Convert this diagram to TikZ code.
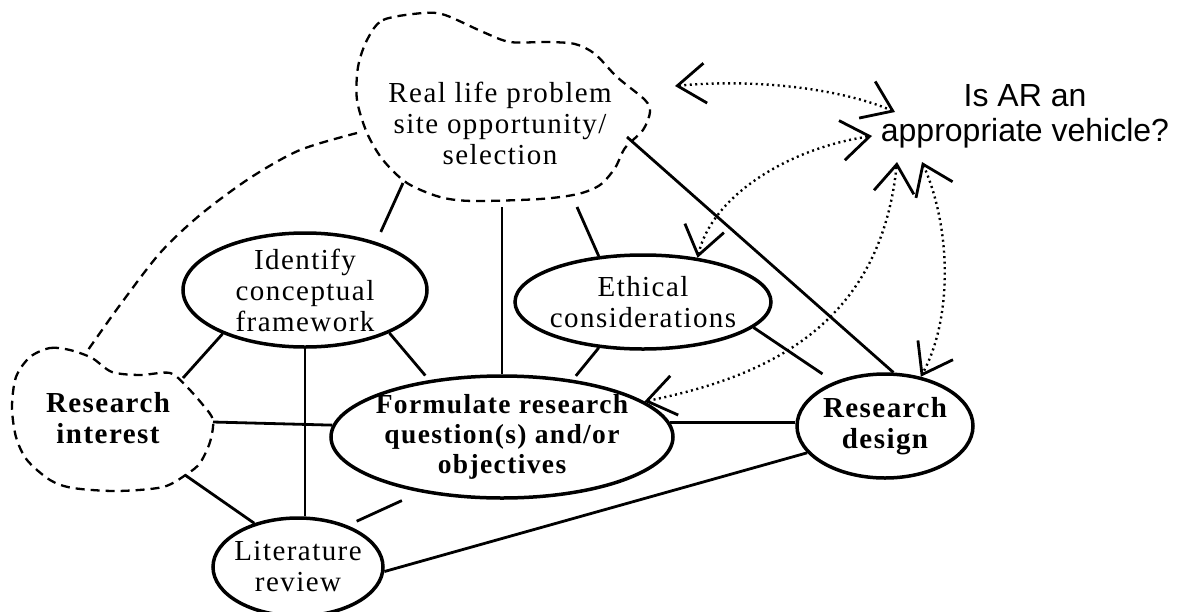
\documentclass[tikz,border=0pt]{standalone}
\usepackage{fontspec}
\setmainfont{Liberation Serif}[LetterSpace=5]
\newfontfamily\askfont{Liberation Sans}
\usetikzlibrary{arrows.meta,shapes.geometric}

\begin{document}
\begin{tikzpicture}[x=1pt,y=-1pt,
  every node/.style={font=\fontsize{29}{31}\selectfont},
  bubble/.style={ellipse,draw,line width=3.5pt,inner sep=-14pt,align=center},
  boldtext/.style={font=\fontsize{29}{31}\selectfont\bfseries},
  link/.style={line width=2.8pt},
  cloudline/.style={line width=2.3pt,dash pattern=on 9pt off 6pt},
  twoway/.style={line width=2.4pt,dash pattern=on 2pt off 3.5pt,
    {Straight Barb[length=28pt,width=40pt,line width=2.8pt]}-{Straight Barb[length=28pt,width=40pt,line width=2.8pt]}}]
\useasboundingbox (0,0) rectangle (1181,611);
% The ellipses.
\node[bubble,minimum width=244pt,minimum height=114pt] (ident) at (305,290) {Identify\\conceptual\\framework};
\node[bubble,minimum width=256pt,minimum height=94pt] (ethic) at (643,302) {Ethical\\considerations};
\node[bubble,font=\fontsize{27.5}{30}\selectfont\bfseries,minimum width=342pt,minimum height=122pt] (form) at (502,437) {Formulate research\\question(s) and/or\\objectives};
\node[bubble,boldtext,minimum width=176pt,minimum height=104pt] (design) at (885,426) {Research\\design};
\node[bubble,minimum width=170pt,minimum height=98pt] (lit) at (298,567) {Literature\\review};
% The two clouds and the question.
\node[align=center] (reallife) at (500,123) {Real life problem\\site opportunity/\\selection};
\node[align=center,boldtext] (interest) at (108,418) {Research\\interest};
\node[align=center,font=\askfont\fontsize{32}{35}\selectfont] (question) at (1025,116) {Is AR an\\appropriate vehicle?};
\draw[cloudline] plot[smooth cycle] coordinates {(367,40) (383,20) (423,13) (445,15) (483,32) (510,42)
  (547,42) (575,44) (595,54) (617,77) (645,100) (650,112) (643,130) (625,148) (615,168) (600,185)
  (578,194) (540,199) (473,201) (440,197) (407,183) (383,160) (367,133) (357,100) (358,67)};
\draw[cloudline] plot[smooth cycle] coordinates {(30,357) (50,348) (70,350) (92,358) (112,372) (140,375)
  (170,373) (187,387) (203,405) (213,420) (210,442) (200,463) (187,474) (163,487) (117,491) (73,488)
  (50,480) (27,460) (16,437) (12,407) (16,377)};
\draw[cloudline] plot[smooth] coordinates {(357,133) (300,150) (250,178) (200,215) (160,253) (120,305) (88,350)};
\coordinate (rl-ident) at (403,183);
\coordinate (rl-form) at (502,207);
\coordinate (rl-ethic) at (577,207);
\coordinate (rl-design) at (627,137);
\coordinate (rl-ask) at (675,86);
\coordinate (ri-ident) at (183,378);
\coordinate (ri-form) at (213,422);
\coordinate (ri-lit) at (185,475);
\coordinate (ask-rl) at (895,112);
\coordinate (ask-ethic) at (872,136);
\coordinate (ask-form) at (897,162);
\coordinate (ask-design) at (922,162);
% Solid links.
\draw[link,shorten >=11pt] (rl-ident) -- (ident.34);
\draw[link] (rl-form) -- (rl-form |- form.north);
\draw[link] (rl-ethic) -- (ethic.134);
\draw[link] (rl-design) -- (design.81);
\draw[link] (ident.208) -- (ri-ident);
\draw[link,shorten >=6pt] (ident.-27) -- (form.142);
\draw[link] (ident.south) -- (ident.south |- lit.north);
\draw[link] (ri-form) -- (form.176);
\draw[link] (form.5) -- (form.5 -| design.west);
\draw[link,shorten >=5pt] (ethic.226) -- (form.39);
\draw[link,shorten >=14pt] (ethic.-13) -- (design.139);
\draw[link] (ri-lit) -- (lit.135);
\draw[link,shorten <=10pt,shorten >=20pt] (lit.40) -- (form.214);
\draw[link] (lit.-3) -- (design.199);
% Dotted two-way arrows to the question.
\draw[twoway] (rl-ask) .. controls (760,78) and (845,90) .. (ask-rl);
\draw[twoway] (ethic.39) .. controls (712,195) and (790,148) .. (ask-ethic);
\draw[twoway] (form.14) .. controls (760,378) and (880,330) .. (ask-form);
\draw[twoway] (ask-design) .. controls (952,230) and (952,320) .. (design.54);
\end{tikzpicture}
\end{document}
